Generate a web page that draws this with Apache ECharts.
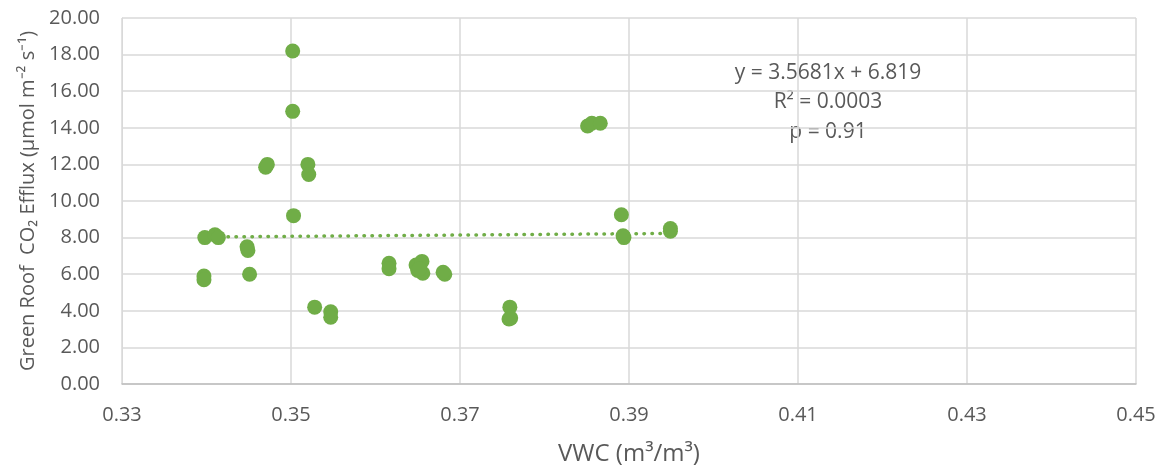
<!DOCTYPE html>
<html>
<head>
<meta charset="utf-8">
<script src="https://cdn.jsdelivr.net/npm/echarts@6/dist/echarts.min.js"></script>
<style>
  html, body { margin: 0; padding: 0; background: #fff; }
  #chart { width: 1163px; height: 469px; }
</style>
</head>
<body>
<div id="chart"></div>
<script>
// VWC 与 CO2 通量的散点数据
var vwc = [
  0.3502, 0.3502, 0.3503, 0.3470, 0.3472, 0.3520, 0.3521,
  0.3398, 0.3410, 0.3414, 0.3448, 0.3449, 0.3397, 0.3397, 0.3451,
  0.3528, 0.3547, 0.3547,
  0.3616, 0.3616, 0.3648, 0.3650, 0.3655, 0.3656, 0.3652, 0.3682, 0.3680,
  0.3759, 0.3758, 0.3760,
  0.3851, 0.3856, 0.3866,
  0.3891, 0.3894, 0.3893, 0.3949, 0.3949
];
var efflux = [
  18.2, 14.9, 9.2, 11.85, 12.0, 12.0, 11.45,
  8.0, 8.15, 8.0, 7.5, 7.3, 5.9, 5.7, 6.0,
  4.2, 3.95, 3.65,
  6.6, 6.3, 6.5, 6.2, 6.7, 6.05, 6.3, 6.0, 6.1,
  4.2, 3.55, 3.6,
  14.1, 14.25, 14.25,
  9.25, 8.0, 8.1, 8.35, 8.5
];
// 趋势线参数
var slope = 3.5681;
var intercept = 6.819;
var xTicks = [0.33, 0.35, 0.37, 0.39, 0.41, 0.43, 0.45];
var yTicks = [0, 2, 4, 6, 8, 10, 12, 14, 16, 18, 20];

var points = vwc.map(function (x, i) { return [x, efflux[i]]; });
var xMin = Math.min.apply(null, vwc);
var xMax = Math.max.apply(null, vwc);
var trend = [[xMin, slope * xMin + intercept], [xMax, slope * xMax + intercept]];

var green = '#70AD47';
var font = 'Open Sans, Liberation Sans, sans-serif';

var chart = echarts.init(document.getElementById('chart'));
chart.setOption({
  animation: false,
  grid: { left: 122, right: 27, top: 18, bottom: 85, outerBoundsMode: 'none' },
  xAxis: {
    type: 'value',
    min: xTicks[0],
    max: xTicks[xTicks.length - 1],
    interval: 0.02,
    name: 'VWC (m³/m³)',
    nameLocation: 'middle',
    nameGap: 58,
    nameTextStyle: { fontSize: 24, color: '#595959', fontFamily: font },
    axisLine: { show: true, lineStyle: { color: '#bfbfbf', width: 1.5 } },
    axisTick: { show: false },
    axisLabel: {
      fontSize: 20, color: '#595959', fontFamily: font, margin: 21,
      formatter: function (v) { return v.toFixed(2); }
    },
    splitLine: { lineStyle: { color: '#d9d9d9', width: 1.5 } }
  },
  yAxis: {
    type: 'value',
    min: yTicks[0],
    max: yTicks[yTicks.length - 1],
    interval: 2,
    name: 'Green Roof  CO₂ Efflux (µmol m⁻² s⁻¹)',
    nameLocation: 'middle',
    nameGap: 84,
    nameTextStyle: { fontSize: 20, color: '#595959', fontFamily: font },
    axisLine: { show: true, lineStyle: { color: '#d9d9d9' } },
    axisTick: { show: false },
    axisLabel: {
      fontSize: 20, color: '#595959', fontFamily: font, margin: 22,
      formatter: function (v) { return v.toFixed(2); }
    },
    splitLine: { lineStyle: { color: '#d9d9d9', width: 1.5 } }
  },
  graphic: [{
    type: 'text',
    x: 828,
    y: 58,
    style: {
      text: 'y = 3.5681x + 6.819\nR² = 0.0003\np = 0.91',
      font: '21px ' + font,
      fill: '#595959',
      align: 'center',
      lineHeight: 29.5
    }
  }],
  series: [
    {
      type: 'line',
      data: trend,
      symbol: 'none',
      z: 1,
      lineStyle: { color: green, width: 3.5, type: [0.5, 7.5], cap: 'round' }
    },
    {
      type: 'scatter',
      data: points,
      symbolSize: 15,
      z: 2,
      itemStyle: { color: green, opacity: 1 }
    }
  ]
});
</script>
</body>
</html>
